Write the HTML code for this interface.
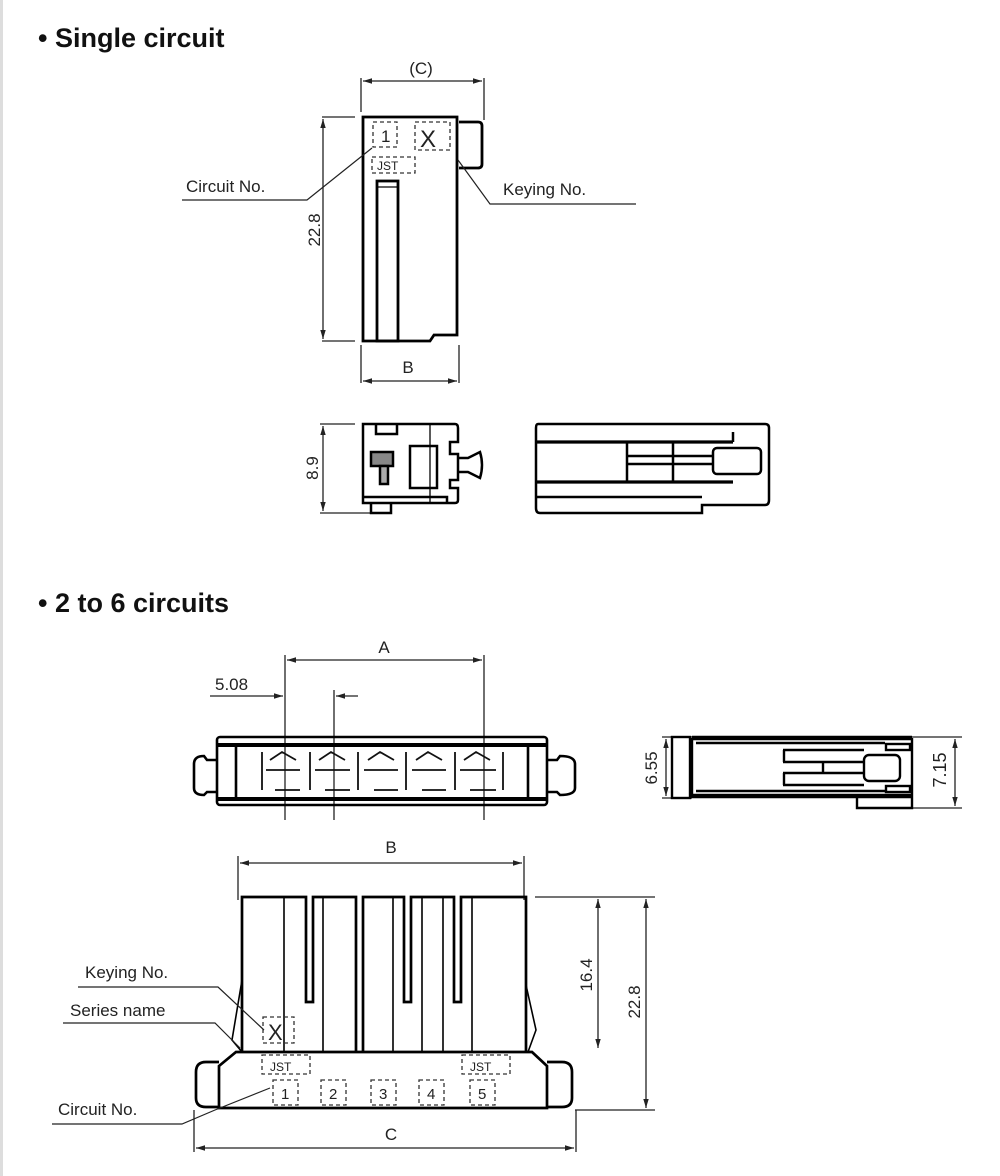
<!DOCTYPE html>
<html><head><meta charset="utf-8"><style>
html,body{margin:0;padding:0;background:#fff;}
svg{display:block;}
text{font-family:"Liberation Sans",Arial,sans-serif;fill:#222;}
.t{font-size:27px;font-weight:bold;fill:#111;}
.l{font-size:17px;}
</style></head><body>
<svg width="1000" height="1176" viewBox="0 0 1000 1176" xmlns="http://www.w3.org/2000/svg">
<defs>
<marker id="a" viewBox="0 0 10 10" refX="10" refY="5" markerWidth="7" markerHeight="7" orient="auto-start-reverse"><path d="M0,2 L10,5 L0,8z" fill="#222"/></marker>
</defs>
<rect x="0" y="0" width="3" height="1176" fill="#ddd"/>
<text class="t" x="38" y="47">• Single circuit</text>
<text class="t" x="38" y="612">• 2 to 6 circuits</text>

<g fill="none" stroke="#222" stroke-width="1.3">
<line x1="361" y1="78" x2="361" y2="112"/><line x1="484" y1="78" x2="484" y2="120"/>
<line x1="363" y1="81" x2="482" y2="81" marker-start="url(#a)" marker-end="url(#a)"/>
<line x1="322" y1="117" x2="355" y2="117"/><line x1="322" y1="341" x2="355" y2="341"/>
<line x1="323" y1="119" x2="323" y2="339" marker-start="url(#a)" marker-end="url(#a)"/>
<line x1="361" y1="345" x2="361" y2="383"/><line x1="459" y1="345" x2="459" y2="383"/>
<line x1="363" y1="381" x2="457" y2="381" marker-start="url(#a)" marker-end="url(#a)"/>
</g>
<g fill="none" stroke="#000" stroke-width="2.8">
<path d="M363,117 H457 V335 H434 L430,341 H363 Z"/>
<path d="M459,122 H478 Q482,122 482,126 V164 Q482,168 478,168 H459"/>
<rect x="377" y="181" width="21" height="160"/>
<line x1="377" y1="187" x2="398" y2="187" stroke-width="1.3"/>
</g>
<g fill="none" stroke="#333" stroke-width="1.3" stroke-dasharray="4,3">
<rect x="373" y="122" width="24" height="25"/><rect x="415" y="122" width="35" height="28"/><rect x="372" y="157" width="43" height="16"/>
</g>
<text class="l" x="381" y="142">1</text><text x="420" y="147" style="font-size:24px">X</text>
<text x="377" y="170" style="font-size:12px">JST</text>
<g stroke="#222" stroke-width="1.2" fill="none">
<path d="M182,200 H307 L372,148"/><path d="M636,204 H490 L458,160"/>
</g>
<text class="l" x="186" y="192">Circuit No.</text>
<text class="l" x="503" y="195">Keying No.</text>
<text class="l" x="421" y="74" text-anchor="middle">(C)</text>
<text class="l" x="408" y="373" text-anchor="middle">B</text>
<text class="l" transform="translate(320,230) rotate(-90)" text-anchor="middle">22.8</text>

<g fill="none" stroke="#222" stroke-width="1.3">
<line x1="320" y1="424" x2="355" y2="424"/><line x1="320" y1="513" x2="370" y2="513"/>
<line x1="323" y1="426" x2="323" y2="511" marker-start="url(#a)" marker-end="url(#a)"/>
</g>
<text class="l" transform="translate(318,468) rotate(-90)" text-anchor="middle">8.9</text>
<g fill="none" stroke="#000" stroke-width="2.5">
<path d="M363,424 H455 Q458,424 458,428 V442 H450 V454 H458 V480 H450 V488 H458 V500 Q458,503 455,503 H363 Z"/>
<path d="M376,424 V434 H397 V424"/>
<rect x="410" y="446" width="27" height="42"/>
<line x1="430" y1="424" x2="430" y2="503" stroke-width="1.3"/>
<path d="M458,458 H468 L480,452 Q484,465 480,478 L468,472 H458"/>
<path d="M363,497 H447 V503"/>
<path d="M371,503 V513 H391 V503"/>
<rect x="371" y="452" width="22" height="14" fill="#888"/>
<rect x="380" y="466" width="8" height="18" fill="#aaa"/>
</g>
<g fill="none" stroke="#000" stroke-width="2.5">
<path d="M538,424 H765 Q769,424 769,428 V500 Q769,505 765,505 H702 V513 H540 Q536,513 536,508 V428 Q536,424 538,424 Z"/>
<line x1="537" y1="442" x2="733" y2="442" stroke-width="3.2"/>
<line x1="537" y1="482" x2="733" y2="482" stroke-width="3.2"/>
<line x1="537" y1="497" x2="702" y2="497"/>
<path d="M627,442 V482 M673,442 V482 M627,456 H713 M627,464 H713"/>
<rect x="713" y="448" width="48" height="26" rx="4"/>
<line x1="733" y1="432" x2="733" y2="442"/>
</g>

<g fill="none" stroke="#222" stroke-width="1.3">
<line x1="285" y1="655" x2="285" y2="820"/><line x1="484" y1="655" x2="484" y2="820"/>
<line x1="334" y1="690" x2="334" y2="820"/>
<line x1="287" y1="660" x2="482" y2="660" marker-start="url(#a)" marker-end="url(#a)"/>
<line x1="210" y1="696" x2="283" y2="696" marker-end="url(#a)"/>
<line x1="358" y1="696" x2="336" y2="696" marker-end="url(#a)"/>
</g>
<text class="l" x="384" y="653" text-anchor="middle">A</text>
<text class="l" x="215" y="690">5.08</text>
<g fill="none" stroke="#000" stroke-width="2.6">
<rect x="217" y="737" width="330" height="68" rx="3"/>
<line x1="217" y1="745" x2="547" y2="745" stroke-width="4"/>
<line x1="217" y1="799" x2="547" y2="799" stroke-width="4"/>
<path d="M217,760 H207 L204,756 Q194,756 194,764 V788 Q194,795 204,795 L207,792 H217"/>
<path d="M547,760 H557 L560,756 Q575,756 575,764 V788 Q575,795 560,795 L557,792 H547"/>
<line x1="236" y1="745" x2="236" y2="799"/><line x1="528" y1="745" x2="528" y2="799"/>
</g>
<g fill="none" stroke="#111" stroke-width="1.8">
<path d="M262,752 V790 M310,752 V790 M358,752 V790 M406,752 V790 M455,752 V790 M503,752 V790"/>
<path d="M266,770 H300 M315,770 H350 M364,770 H398 M412,770 H446 M460,770 H496"/>
<path d="M270,760 L282,752 L296,760 M319,760 L331,752 L345,760 M368,760 L380,752 L394,760 M416,760 L428,752 L442,760 M464,760 L476,752 L490,760"/>
<path d="M275,790 H300 M325,790 H350 M374,790 H398 M422,790 H446 M470,790 H496"/>
</g>

<g fill="none" stroke="#222" stroke-width="1.3">
<line x1="238" y1="856" x2="238" y2="900"/><line x1="524" y1="856" x2="524" y2="900"/>
<line x1="240" y1="863" x2="522" y2="863" marker-start="url(#a)" marker-end="url(#a)"/>
<line x1="535" y1="897" x2="655" y2="897"/>
<line x1="598" y1="899" x2="598" y2="1048" marker-start="url(#a)" marker-end="url(#a)"/>
<line x1="646" y1="899" x2="646" y2="1108" marker-start="url(#a)" marker-end="url(#a)"/>
<line x1="575" y1="1110" x2="655" y2="1110"/>
<line x1="194" y1="1110" x2="194" y2="1152"/><line x1="576" y1="1110" x2="576" y2="1152"/>
<line x1="196" y1="1148" x2="574" y2="1148" marker-start="url(#a)" marker-end="url(#a)"/>
</g>
<text class="l" x="391" y="853" text-anchor="middle">B</text>
<text class="l" x="391" y="1140" text-anchor="middle">C</text>
<text class="l" transform="translate(592,975) rotate(-90)" text-anchor="middle">16.4</text>
<text class="l" transform="translate(640,1002) rotate(-90)" text-anchor="middle">22.8</text>
<g fill="none" stroke="#000" stroke-width="2.7">
<path d="M242,1052 V897 H306 V1002 H313 V897 H356 V1052 M363,1052 V897 H404 V1002 H411 V897 H454 V1002 H461 V897 H526 V1052"/>
<path d="M356,897 V897"/>
<path d="M284,897 V1052 M323,897 V1052 M393,897 V1052 M422,897 V1052 M443,897 V1052 M472,897 V1052" stroke-width="1.6"/>
<path d="M242,980 L232,1040 L242,1052 M526,985 L536,1030 L528,1052" stroke-width="1.6"/>
<path d="M236,1052 H532 L547,1066 V1108 H219 V1066 Z"/>
<path d="M219,1062 H206 Q196,1062 196,1072 V1098 Q196,1107 206,1107 H219"/>
<path d="M547,1062 H562 Q572,1062 572,1072 V1098 Q572,1107 562,1107 H547"/>
</g>
<g fill="none" stroke="#333" stroke-width="1.3" stroke-dasharray="4,3">
<rect x="263" y="1017" width="31" height="26"/>
<rect x="262" y="1055" width="48" height="19"/><rect x="462" y="1055" width="48" height="19"/>
<rect x="273" y="1080" width="25" height="25"/><rect x="321" y="1080" width="25" height="25"/><rect x="371" y="1080" width="25" height="25"/><rect x="419" y="1080" width="25" height="25"/><rect x="470" y="1080" width="25" height="25"/>
</g>
<text x="268" y="1040" style="font-size:22px">X</text>
<text x="270" y="1071" style="font-size:12px">JST</text><text x="470" y="1071" style="font-size:12px">JST</text>
<g class="l" style="font-size:15px">
<text x="281" y="1099">1</text><text x="329" y="1099">2</text><text x="379" y="1099">3</text><text x="427" y="1099">4</text><text x="478" y="1099">5</text>
</g>
<g stroke="#222" stroke-width="1.2" fill="none">
<path d="M78,987 H218 L264,1030"/>
<path d="M63,1023 H215 L240,1048"/>
<path d="M52,1124 H182 L215,1110 L270,1088"/>
</g>
<text class="l" x="85" y="978">Keying No.</text>
<text class="l" x="70" y="1016">Series name</text>
<text class="l" x="58" y="1115">Circuit No.</text>

<g fill="none" stroke="#222" stroke-width="1.3">
<line x1="662" y1="737" x2="692" y2="737"/><line x1="662" y1="798" x2="692" y2="798"/>
<line x1="666" y1="739" x2="666" y2="796" marker-start="url(#a)" marker-end="url(#a)"/>
<line x1="912" y1="737" x2="962" y2="737"/><line x1="912" y1="808" x2="962" y2="808"/>
<line x1="955" y1="739" x2="955" y2="806" marker-start="url(#a)" marker-end="url(#a)"/>
</g>
<text class="l" transform="translate(657,768) rotate(-90)" text-anchor="middle">6.55</text>
<text class="l" transform="translate(946,770) rotate(-90)" text-anchor="middle" style="font-size:18px">7.15</text>
<g fill="none" stroke="#000" stroke-width="2.4">
<rect x="672" y="737" width="18" height="61"/>
<line x1="692" y1="738" x2="912" y2="738" stroke-width="4.5"/>
<line x1="692" y1="796" x2="912" y2="796" stroke-width="4.5"/>
<line x1="696" y1="743" x2="885" y2="743"/>
<line x1="696" y1="791" x2="885" y2="791"/>
<path d="M692,738 V798 M912,738 V808 H857 V798"/>
<path d="M783,750 H864 M783,762 H864 M783,773 H864 M783,785 H864 M823,762 V773 M784,750 V762 M784,773 V785"/>
<rect x="864" y="755" width="36" height="26" rx="5"/>
<rect x="886" y="744" width="24" height="6"/><rect x="886" y="786" width="24" height="6"/>
</g>
</svg>
</body></html>
